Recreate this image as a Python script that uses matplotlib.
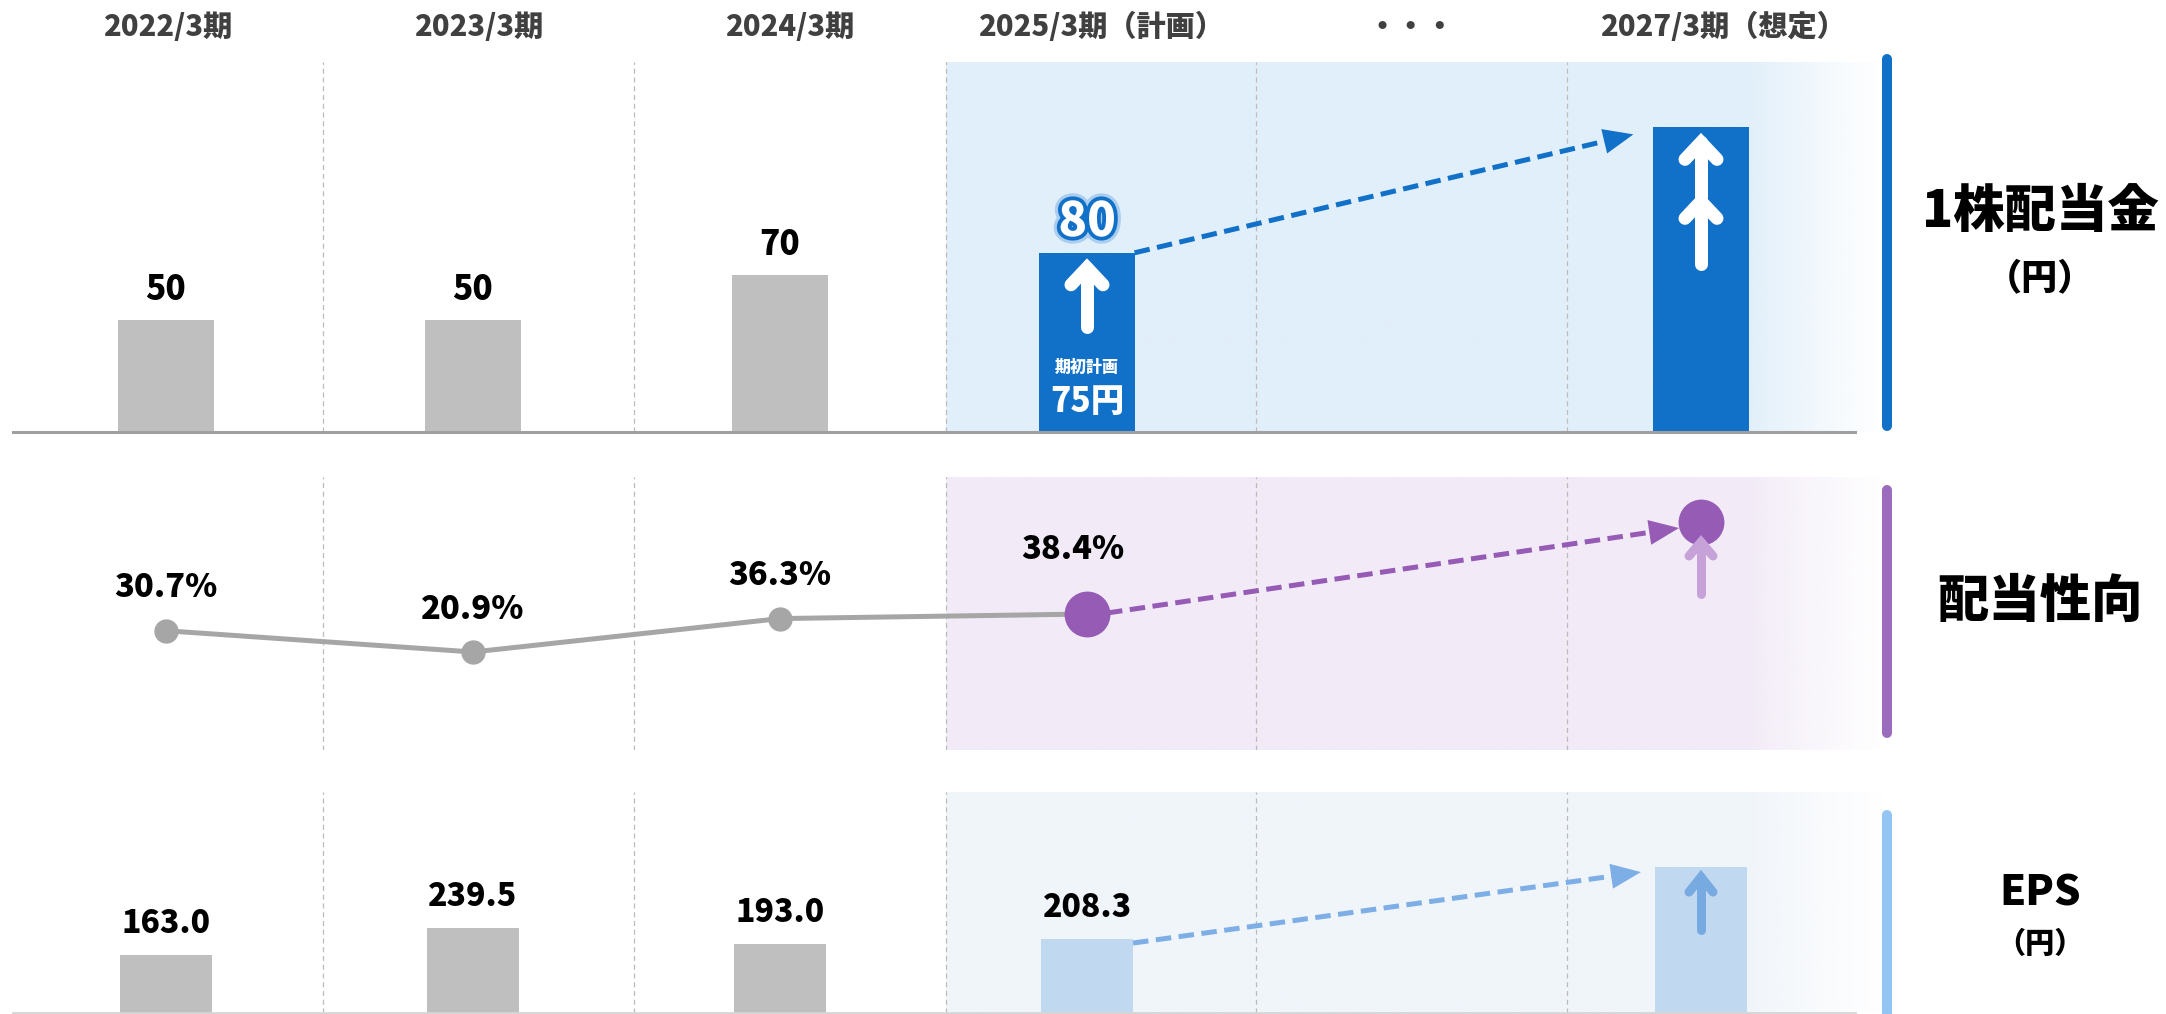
import numpy as np
import matplotlib
matplotlib.use("Agg")
import matplotlib.pyplot as plt
import matplotlib.patheffects as pe
from matplotlib.transforms import blended_transform_factory
from matplotlib.lines import Line2D
from matplotlib.patches import Polygon
from matplotlib.colors import to_rgb

plt.rcParams['font.family'] = ['Noto Sans CJK JP', 'DejaVu Sans']

# ---------------- data ----------------
periods = ["2022/3期", "2023/3期", "2024/3期", "2025/3期（計画）", "・・・", "2027/3期（想定）"]
actual_x = [0, 1, 2, 3]            # category index of the reported / planned years
target_x = 5                       # 2027/3期 (想定)
dividend = [50, 50, 70, 80]        # 1株配当金 (円)
dividend_initial_plan = 75         # 期初計画
dividend_2027_visual = 136         # illustrative height (no value shown)
payout = [30.7, 20.9, 36.3, 38.4]  # 配当性向 (%)
payout_2027_visual = 80.8          # illustrative position (no value shown)
eps = [163.0, 239.5, 193.0, 208.3] # EPS (円)
eps_2027_visual = 411              # illustrative height (no value shown)

# ---------------- layout ----------------
W, H = 2166, 1014
X0_PX, UNIT_PX = 166, 307.0
LEFT_PX, RIGHT_PX = 10, 1882
separators = [0.51, 1.525, 2.54, 3.55, 4.565]
col_edges = [-0.5] + separators + [5.58]
col_centers = [(a + b) / 2 for a, b in zip(col_edges[:-1], col_edges[1:])]

BLUE = '#1170C8'
GREY_BAR = '#BFBFBF'
GREY_LINE = '#A6A6A6'
PURPLE = '#955BB5'
LIGHT_PURPLE = '#C7A2D8'
EPS_BAR = '#C0D8F0'
EPS_ARROW = '#7DAEE5'

fig = plt.figure(figsize=(W / 100, H / 100), dpi=100)


def fx(px):
    return px / W


def fy(px):
    return 1 - px / H


def make_axes(top_px, bottom_px, ylim):
    ax = fig.add_axes([fx(LEFT_PX), fy(bottom_px), fx(RIGHT_PX) - fx(LEFT_PX), (bottom_px - top_px) / H])
    ax.set_xlim((LEFT_PX - X0_PX) / UNIT_PX, (RIGHT_PX - X0_PX) / UNIT_PX)
    ax.set_ylim(*ylim)
    ax.axis('off')
    return ax


ax_top = make_axes(62, 432, (0, 370 / 2.24))
ax_mid = make_axes(477, 750, (20.9 - 98 / 2.17, 20.9 + 175 / 2.17))
ax_bot = make_axes(792, 1013, (0, 221 / 0.355))


def shade(ax, color, x_start):
    x0, x1 = ax.get_xlim()
    y0, y1 = ax.get_ylim()
    n = 600
    xs = np.linspace(x_start, x1, n)
    px = X0_PX + xs * UNIT_PX
    alpha = np.clip((1890 - px) / (1890 - 1745), 0, 1) ** 1.2
    rgba = np.zeros((1, n, 4))
    rgba[..., :3] = to_rgb(color)
    rgba[..., 3] = alpha
    ax.imshow(rgba, extent=[x_start, x1, y0, y1], aspect='auto', zorder=0, interpolation='bilinear')
    ax.set_xlim(x0, x1)
    ax.set_ylim(y0, y1)


for ax, col in [(ax_top, '#E1EFFA'), (ax_mid, '#F2EBF7'), (ax_bot, '#F0F5FA')]:
    shade(ax, col, separators[2])
    for s in separators:
        ax.axvline(s, color='#BBBBBB', lw=0.9, ls=(0, (4, 3)), zorder=1)


def dashed_arrow(ax, p0, p1, off0, off1, color, lw_px=5, head_len=30, head_w=25):
    T = ax.transData
    a = T.transform(p0) + np.array(off0)
    b = T.transform(p1) + np.array(off1)
    u = (b - a) / np.linalg.norm(b - a)
    n = np.array([-u[1], u[0]])
    base = b - u * head_len
    inv = T.inverted()
    pts = inv.transform(np.vstack([a, base + u * 2]))
    ax.plot(pts[:, 0], pts[:, 1], color=color, lw=lw_px * 0.72, dashes=(3.1, 1.5),
            dash_capstyle='butt', zorder=5)
    tri = inv.transform(np.vstack([b, base + n * head_w / 2, base - n * head_w / 2]))
    ax.add_patch(Polygon(tri, closed=True, facecolor=color, edgecolor='none', zorder=5))


def up_arrow(ax, x, y, tip_off, tail_off, color, lw_px, hw, hl, zorder=6):
    T = ax.transData
    d = T.transform((x, y))
    tip = d + np.array([0, tip_off])
    tail = d + np.array([0, tail_off])
    inv = T.inverted()
    shaft = inv.transform(np.vstack([tail, tip]))
    head = inv.transform(np.vstack([tip + [-hw, -hl], tip, tip + [hw, -hl]]))
    for pts in (shaft, head):
        ax.plot(pts[:, 0], pts[:, 1], color=color, lw=lw_px * 0.72, solid_capstyle='round',
                solid_joinstyle='miter', zorder=zorder)


BOLD = dict(fontweight='heavy', ha='center', va='center')

# ---------------- 1株配当金 ----------------
ax_top.plot([-0.5, 5.5], [0, 0], color='#A0A0A0', lw=2.2, clip_on=False, zorder=3)
bar_colors = [GREY_BAR, GREY_BAR, GREY_BAR, BLUE]
ax_top.bar(actual_x, dividend, width=0.31, color=bar_colors, zorder=2)
ax_top.bar([target_x], [dividend_2027_visual], width=0.31, color=BLUE, zorder=2)
for x, v in zip(actual_x[:3], dividend[:3]):
    ax_top.annotate(f"{v}", (x, v), xytext=(0, 31), textcoords='offset pixels', fontsize=24, color='black', **BOLD)
ax_top.annotate(f"{dividend[3]}", (actual_x[3], dividend[3]), xytext=(0, 31), textcoords='offset pixels',
                fontsize=34, color='white', zorder=7,
                path_effects=[pe.Stroke(linewidth=10, foreground='#7FB2E6', alpha=0.55),
                              pe.Stroke(linewidth=5.5, foreground=BLUE), pe.Normal()], **BOLD)
ax_top.annotate("期初計画", (actual_x[3], 0), xytext=(0, 65), textcoords='offset pixels',
                fontsize=11.5, color='white', zorder=7, **BOLD)
ax_top.annotate(f"{dividend_initial_plan}円", (actual_x[3], 0), xytext=(0, 31), textcoords='offset pixels',
                fontsize=24, color='white', zorder=7, **BOLD)
up_arrow(ax_top, actual_x[3], dividend[3], -15, -74, 'white', 13, 16, 17)
up_arrow(ax_top, target_x, dividend_2027_visual, -15, -70, 'white', 13, 16, 17)
up_arrow(ax_top, target_x, dividend_2027_visual, -74, -137, 'white', 13, 16, 17)
dashed_arrow(ax_top, (actual_x[3] + 0.155, dividend[3]), (target_x - 0.155, dividend_2027_visual),
             (0, 0), (-20, -7), BLUE)

# ---------------- 配当性向 ----------------
ax_mid.plot(actual_x, payout, color=GREY_LINE, lw=3.6, zorder=3, solid_capstyle='round')
ax_mid.plot(actual_x[:3], payout[:3], 'o', ms=16.5, color=GREY_LINE, zorder=4)
ax_mid.plot([actual_x[3], target_x], [payout[3], payout_2027_visual], 'o', ms=32, color=PURPLE,
            ls='none', zorder=4)
for x, v in zip(actual_x[:3], payout[:3]):
    ax_mid.annotate(f"{v:.1f}%", (x, v), xytext=(0, 43), textcoords='offset pixels', fontsize=23.5, **BOLD)
ax_mid.annotate(f"{payout[3]:.1f}%", (actual_x[3], payout[3]), xytext=(-14, 65), textcoords='offset pixels',
                fontsize=23.5, **BOLD)
dashed_arrow(ax_mid, (actual_x[3], payout[3]), (target_x, payout_2027_visual), (20, 1), (-22, -6), PURPLE)
up_arrow(ax_mid, target_x, payout_2027_visual, -20, -72, LIGHT_PURPLE, 9, 12, 14, zorder=6)

# ---------------- EPS ----------------
ax_bot.plot([-0.5, 5.5], [0, 0], color='#D6D6D6', lw=2, clip_on=False, zorder=3)
ax_bot.bar(actual_x, eps, width=0.30, color=[GREY_BAR, GREY_BAR, GREY_BAR, EPS_BAR], zorder=2)
ax_bot.bar([target_x], [eps_2027_visual], width=0.30, color=EPS_BAR, zorder=2)
for x, v in zip(actual_x, eps):
    ax_bot.annotate(f"{v:.1f}", (x, v), xytext=(0, 32), textcoords='offset pixels', fontsize=23, **BOLD)
dashed_arrow(ax_bot, (actual_x[3] + 0.15, eps[3]), (target_x - 0.15, eps_2027_visual),
             (0, -4), (-14, -5), EPS_ARROW)
up_arrow(ax_bot, target_x, eps_2027_visual, -10, -63, '#78AAE2', 9, 12, 15)

# ---------------- headers ----------------
hdr_tr = blended_transform_factory(ax_top.transData, fig.transFigure)
for cx, lab in zip(col_centers, periods):
    ax_top.text(cx, fy(27), lab, transform=hdr_tr, fontsize=21, color='#404040', clip_on=False, **BOLD)

# ---------------- right-side labels ----------------
for (t, b, c) in [(59, 426, BLUE), (490, 733, '#9B6BBE'), (815, 1030, '#92C5F3')]:
    fig.add_artist(Line2D([fx(1887), fx(1887)], [fy(t), fy(b)], transform=fig.transFigure,
                          lw=7.2, color=c, solid_capstyle='round'))
fig.text(fx(2040), fy(212), "1株配当金", fontsize=37, **BOLD)
fig.text(fx(2040), fy(278), "（円）", fontsize=26, **BOLD)
fig.text(fx(2040), fy(602), "配当性向", fontsize=37, **BOLD)
fig.text(fx(2040), fy(894), "EPS", fontsize=30, **BOLD)
fig.text(fx(2040), fy(944), "（円）", fontsize=21, **BOLD)

fig.savefig("out.png", dpi=100)
